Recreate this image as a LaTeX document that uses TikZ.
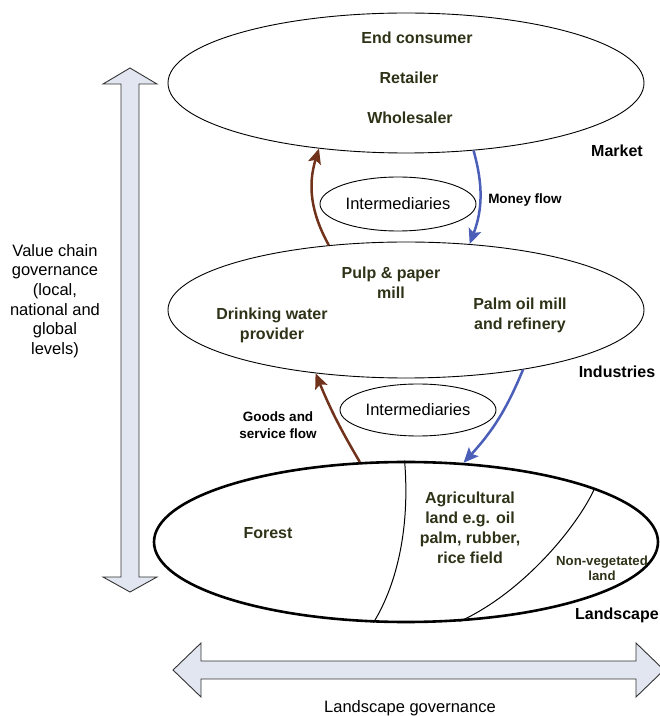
\documentclass[tikz,border=0pt]{standalone}
\usepackage{fontspec}
\setmainfont{Liberation Sans}
\usetikzlibrary{shapes.geometric,arrows.meta}
\definecolor{olivetext}{HTML}{2E3318}
\definecolor{goodsbrown}{HTML}{70321A}
\definecolor{moneyblue}{HTML}{4B5FB9}
\definecolor{govfill}{HTML}{E1E6F1}
\begin{document}
\begin{tikzpicture}[x=1pt,y=1pt]
\tikzstyle{level}=[ellipse,draw=black,line width=0.9pt,inner sep=0pt,minimum width=476pt]
\tikzstyle{inter}=[ellipse,draw=black,line width=0.9pt,inner sep=0pt,minimum width=156pt,font=\fontsize{16.5}{19}\selectfont]
\tikzstyle{actor}=[text=olivetext,align=center,font=\fontsize{16}{20}\selectfont\bfseries]
\tikzstyle{tag}=[text=black,align=center,font=\fontsize{16}{20}\selectfont\bfseries]
\tikzstyle{flowtag}=[text=black,align=center,font=\fontsize{13.5}{17}\selectfont\bfseries]
\tikzstyle{plain}=[text=black,align=center,font=\fontsize{16.5}{19.6}\selectfont]
\tikzstyle{goods}=[draw=goodsbrown,line width=2.5pt,-{Stealth[length=15pt,width=13pt,inset=3pt]}]
\tikzstyle{money}=[draw=moneyblue,line width=2.5pt,-{Stealth[length=15pt,width=13pt,inset=3pt]}]
\tikzstyle{govarrow}=[draw=black!80,fill=govfill,line width=0.9pt,line join=miter]

\useasboundingbox (0,0) rectangle (660,716);

% governance arrows
\draw [govarrow] (130,648) -- (157,632) -- (139,632) -- (139,139) -- (157,139) -- (130,124)
  -- (103,139) -- (121,139) -- (121,632) -- (103,632) -- cycle;
\draw [govarrow] (173,46) -- (201,73) -- (201,55) -- (636,55) -- (636,73) -- (664,46)
  -- (636,19) -- (636,37) -- (201,37) -- (201,19) -- cycle;
\node [plain] at (55,415) (vcg) {Value chain\\governance\\(local,\\national and\\global\\levels)};
\node [plain] at (410,8) (lg) {Landscape governance};

% the three levels
\node [level,minimum height=140pt] at (406,633) (market) {};
\node [level,minimum height=136pt] at (406,406) (industry) {};
\node [level,minimum width=504pt,minimum height=160pt,line width=2.6pt] at (406,174) (land) {};

\node [actor] at (417,678) (consumer) {End consumer};
\node [actor] at (409,638) (retailer) {Retailer};
\node [actor] at (410,598) (wholesaler) {Wholesaler};
\node [tag] at (617,565) (marketlbl) {Market};

\node [actor] at (391,433) (pulp) {Pulp \& paper\\mill};
\node [actor] at (520,401) (palm) {Palm oil mill\\and refinery};
\node [actor] at (272,391) (water) {Drinking water\\provider};
\node [tag] at (617,344) (industrylbl) {Industries};

\draw [line width=1pt] (land.91) .. controls +(6,-73) and +(21,34) .. (land.248);
\draw [line width=1pt] (land.16) .. controls +(-18,-40) and +(62,28) .. (land.304);
\node [actor] at (268,183) (forest) {Forest};
\node [actor] at (470,188) (agri) {Agricultural\\land e.g. oil\\palm, rubber,\\rice field};
\node [actor,font=\fontsize{13.2}{15}\selectfont\bfseries] at (602,148) (bare) {Non-vegetated\\land};
\node [tag] at (617,101) (landlbl) {Landscape};

% intermediaries and flows
\node [inter,minimum height=54pt] at (398,512) (inter1) {Intermediaries};
\node [inter,minimum height=52pt] at (418,306) (inter2) {Intermediaries};

\draw [goods] (industry.140) to[bend left=23] (market.217);
\draw [money] (market.315) to[bend left=18] (industry.46);
\draw [goods] (land.120) to[bend left=4] (industry.215);
\draw [money] (industry.333) to[bend left=10] (land.54);

\node [flowtag] at (525,516) (moneylbl) {Money flow};
\node [flowtag] at (278,291) (goodslbl) {Goods and\\service flow};
\end{tikzpicture}
\end{document}
